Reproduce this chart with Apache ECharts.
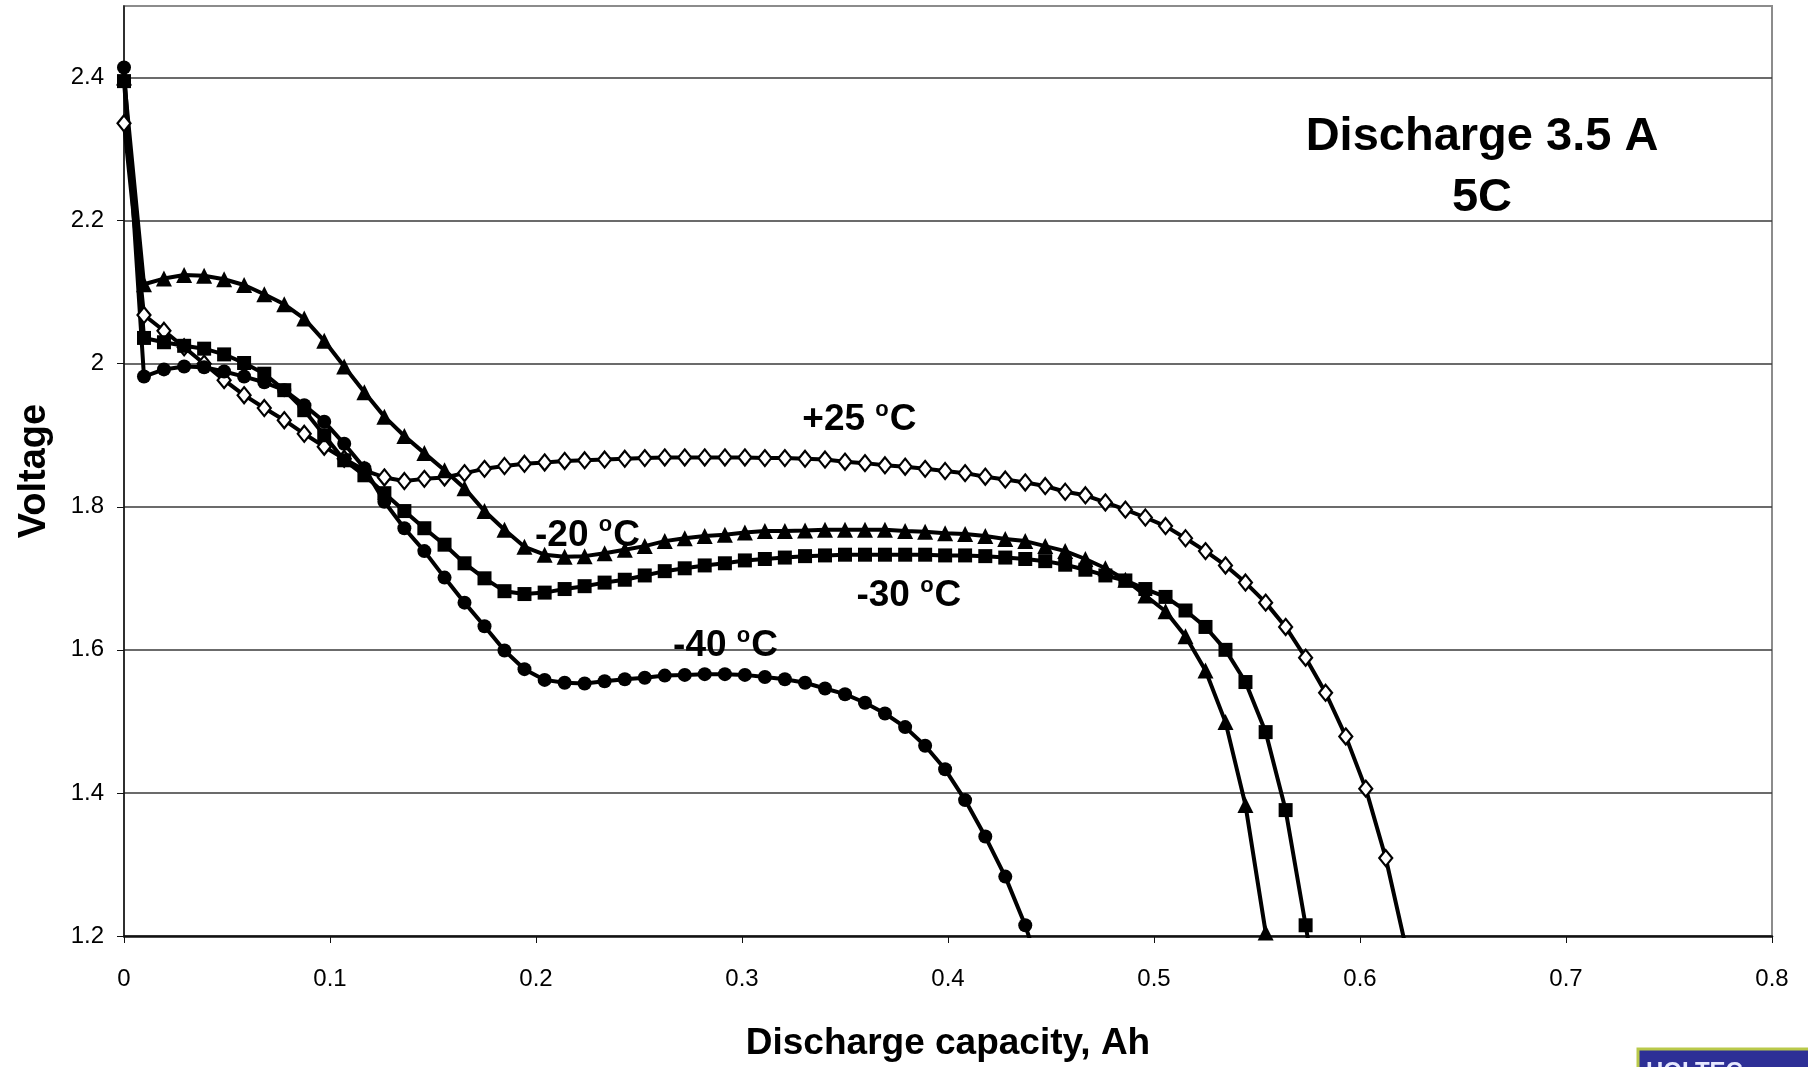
<!DOCTYPE html>
<html><head><meta charset="utf-8">
<script src="https://cdn.jsdelivr.net/npm/echarts@6/dist/echarts.min.js"></script>
<style>html,body{margin:0;padding:0;background:#fff}#chart{width:1808px;height:1067px}</style>
</head><body><div id="chart"></div>
<script>
const capacity = [0, 0.0097, 0.0194, 0.0292, 0.0389, 0.0486, 0.0583, 0.0681, 0.0778, 0.0875,
  0.0972, 0.1069, 0.1167, 0.1264, 0.1361, 0.1458, 0.1556, 0.1653, 0.1750, 0.1847,
  0.1944, 0.2042, 0.2139, 0.2236, 0.2333, 0.2431, 0.2528, 0.2625, 0.2722, 0.2819,
  0.2917, 0.3014, 0.3111, 0.3208, 0.3306, 0.3403, 0.3500, 0.3597, 0.3694, 0.3792,
  0.3889, 0.3986, 0.4083, 0.4181, 0.4278, 0.4375, 0.4472, 0.4569, 0.4667, 0.4764,
  0.4861, 0.4958, 0.5056, 0.5153, 0.5250, 0.5347, 0.5444, 0.5542, 0.5639, 0.5736,
  0.5833, 0.5931, 0.6028, 0.6125, 0.6222];

const voltagePlus25 = [2.336, 2.068, 2.046, 2.023, 2.000, 1.977, 1.956, 1.938, 1.921, 1.902,
  1.884, 1.867, 1.851, 1.841, 1.836, 1.839, 1.841, 1.847, 1.853, 1.857,
  1.860, 1.862, 1.864, 1.865, 1.866, 1.867, 1.868, 1.869, 1.869, 1.869,
  1.869, 1.869, 1.868, 1.868, 1.867, 1.866, 1.863, 1.861, 1.858, 1.856,
  1.853, 1.850, 1.847, 1.842, 1.838, 1.834, 1.829, 1.821, 1.816, 1.806,
  1.796, 1.785, 1.773, 1.756, 1.738, 1.718, 1.694, 1.666, 1.632, 1.589,
  1.540, 1.479, 1.406, 1.309, 1.185];

const voltageMinus20 = [2.400, 2.111, 2.119, 2.124, 2.123, 2.118, 2.110, 2.097, 2.083, 2.063,
  2.032, 1.996, 1.960, 1.926, 1.899, 1.875, 1.851, 1.826, 1.794, 1.768,
  1.744, 1.733, 1.730, 1.731, 1.735, 1.740, 1.745, 1.752, 1.756, 1.759,
  1.761, 1.764, 1.766, 1.766, 1.767, 1.768, 1.768, 1.768, 1.768, 1.766,
  1.765, 1.763, 1.762, 1.759, 1.755, 1.752, 1.745, 1.738, 1.727, 1.714,
  1.698, 1.676, 1.654, 1.619, 1.571, 1.499, 1.383, 1.205, 1.030];

const voltageMinus30 = [2.395, 2.036, 2.030, 2.025, 2.021, 2.013, 2.001, 1.986, 1.963, 1.935,
  1.900, 1.865, 1.844, 1.819, 1.794, 1.770, 1.747, 1.721, 1.700, 1.682,
  1.678, 1.680, 1.685, 1.689, 1.694, 1.698, 1.704, 1.710, 1.714, 1.718,
  1.721, 1.725, 1.727, 1.729, 1.731, 1.732, 1.733, 1.733, 1.733, 1.733,
  1.733, 1.732, 1.732, 1.731, 1.729, 1.727, 1.724, 1.719, 1.712, 1.704,
  1.697, 1.685, 1.674, 1.655, 1.632, 1.600, 1.555, 1.485, 1.376, 1.215,
  1.050];

const voltageMinus40 = [2.414, 1.982, 1.992, 1.996, 1.995, 1.989, 1.982, 1.974, 1.963, 1.942,
  1.919, 1.888, 1.854, 1.807, 1.770, 1.738, 1.701, 1.666, 1.633, 1.599,
  1.573, 1.558, 1.554, 1.553, 1.556, 1.559, 1.561, 1.564, 1.565, 1.566,
  1.566, 1.565, 1.562, 1.559, 1.554, 1.546, 1.538, 1.526, 1.511, 1.492,
  1.466, 1.433, 1.390, 1.339, 1.283, 1.215, 1.130];

const seriesNames = ['+25 °C', '-20 °C', '-30 °C', '-40 °C'];
// in-chart temperature labels: [capacity, voltage] anchor, number part
const labelAnchors = [[0.357, 1.922], [0.225, 1.760], [0.381, 1.676], [0.292, 1.606]];
const labelNumbers = ['+25', '-20', '-30', '-40'];
const titleText = 'Discharge 3.5 A\n5C';
const xTitle = 'Discharge capacity, Ah';
const yTitle = 'Voltage';

const FONT = '"Liberation Sans", Arial, Helvetica, sans-serif';

const chart = echarts.init(document.getElementById('chart'), null, {renderer: 'canvas'});

function lineSeries(name, values, symbol, size, filled) {
  return {
    name: name,
    type: 'line',
    data: values.map((v, i) => [capacity[i], v]),
    symbol: symbol,
    symbolSize: size,
    showAllSymbol: true,
    smooth: false,
    clip: true,
    lineStyle: {color: '#000', width: 4},
    itemStyle: filled ? {color: '#000', borderColor: '#000', borderWidth: 0}
                      : {color: '#fff', borderColor: '#000', borderWidth: 2.2},
    emphasis: {disabled: true},
    animation: false
  };
}

const labelSeries = {
  type: 'scatter',
  silent: true,
  symbolSize: 0,
  itemStyle: {color: 'rgba(0,0,0,0)'},
  data: labelAnchors.map((p, i) => ({value: p, num: labelNumbers[i]})),
  label: {
    show: true,
    position: 'inside',
    opacity: 1,
    formatter: (p) => '{a|' + p.data.num + ' }{s|o}{a|C}',
    rich: {
      a: {fontSize: 37, fontWeight: 'bold', fontFamily: FONT, color: '#000', lineHeight: 42},
      s: {fontSize: 22, fontWeight: 'bold', fontFamily: FONT, color: '#000', lineHeight: 6, verticalAlign: 'top', padding: [0, 1, 0, 0]}
    }
  },
  z: 10,
  animation: false
};

chart.setOption({
  backgroundColor: '#fff',
  animation: false,
  grid: {left: 124, right: 36, top: 6, bottom: 127, show: true, borderColor: '#8c8c8c', borderWidth: 2, backgroundColor: 'transparent'},
  xAxis: {
    type: 'value', min: 0, max: 0.8, interval: 0.1,
    name: xTitle, nameLocation: 'middle', nameGap: 89,
    nameTextStyle: {fontSize: 37, fontWeight: 'bold', fontFamily: FONT, color: '#000'},
    axisLine: {show: true, onZero: false, lineStyle: {color: '#111', width: 2.5}},
    axisTick: {show: true, inside: false, length: 7, lineStyle: {color: '#111', width: 1}},
    axisLabel: {fontSize: 24, fontFamily: FONT, color: '#000', margin: 31},
    splitLine: {show: false}
  },
  yAxis: {
    type: 'value', min: 1.2, max: 2.5, interval: 0.2,
    name: yTitle, nameLocation: 'middle', nameGap: 70, nameRotate: 90,
    nameTextStyle: {fontSize: 38, fontWeight: 'bold', fontFamily: FONT, color: '#000'},
    axisLine: {show: true, onZero: false, lineStyle: {color: '#111', width: 1.5}},
    axisTick: {show: true, inside: false, length: 7, lineStyle: {color: '#111', width: 1}},
    axisLabel: {fontSize: 24, fontFamily: FONT, color: '#000', margin: 20, showMaxLabel: false},
    splitLine: {show: true, showMinLine: false, showMaxLine: false, lineStyle: {color: '#3a3a3a', width: 1.5}}
  },
  series: [
    lineSeries(seriesNames[0], voltagePlus25, 'diamond', [13, 16], false),
    lineSeries(seriesNames[1], voltageMinus20, 'triangle', 16, true),
    lineSeries(seriesNames[2], voltageMinus30, 'rect', 14, true),
    lineSeries(seriesNames[3], voltageMinus40, 'circle', 14, true),
    labelSeries
  ],
  graphic: [
    {type: 'text', x: 1482, y: 107, z: 20,
     style: {text: titleText, fontSize: 47, fontWeight: 'bold', fontFamily: FONT, fill: '#000',
             align: 'center', verticalAlign: 'top', lineHeight: 61}},
    {type: 'group', x: 1638, y: 1049, z: 20, children: [
      {type: 'rect', shape: {x: 0, y: 0, width: 180, height: 30},
       style: {fill: '#2d2f96', stroke: '#b9c94a', lineWidth: 3}},
      {type: 'text', x: 8, y: 11,
       style: {text: 'HOLTEC', fontSize: 24, fontWeight: 'bold', fontFamily: FONT, fill: '#e6e8ff'}}
    ]}
  ]
});
</script>
</body></html>
